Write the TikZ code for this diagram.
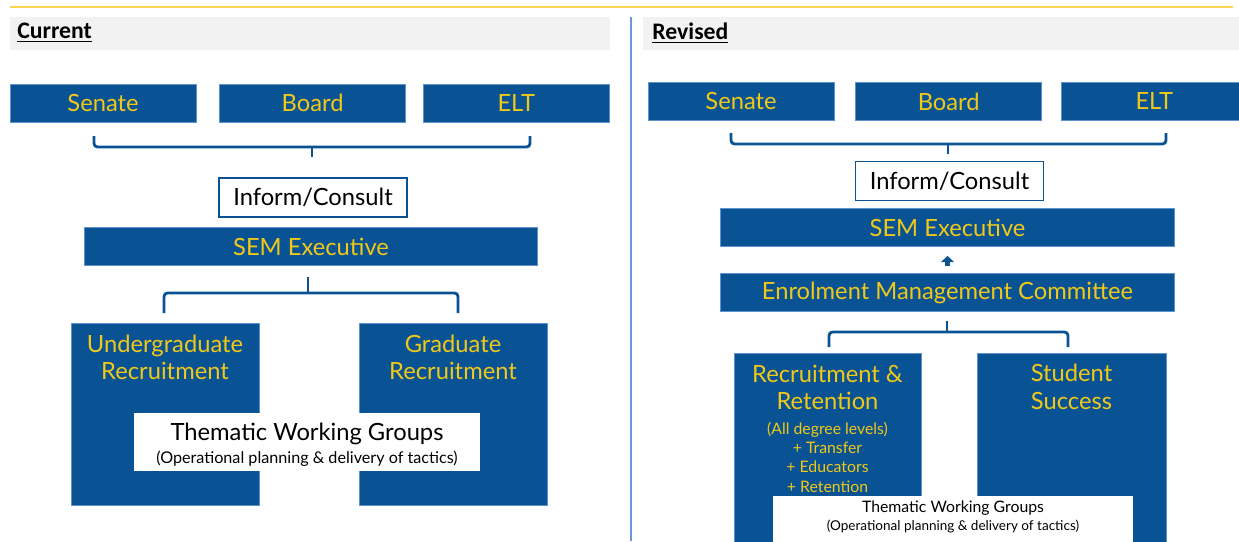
\documentclass[tikz,border=0pt]{standalone}
\usepackage{fontspec}
\setmainfont{Lato}
\newfontfamily\headfont{Carlito}
\usetikzlibrary{arrows.meta, positioning}

\definecolor{semblue}{RGB}{9,83,148}
\definecolor{semedge}{RGB}{96,146,206}
\definecolor{semgold}{RGB}{240,200,24}
\definecolor{rulegold}{RGB}{255,212,84}
\definecolor{headgray}{RGB}{242,242,242}
\definecolor{splitblue}{RGB}{110,150,215}

\tikzset{
  govbox/.style={rectangle, fill=semblue, draw=semedge, line width=0.4pt, text=semgold,
    inner sep=0pt, minimum width=3.72cm, minimum height=0.76cm, font=\fontsize{13.5}{15}\selectfont},
  widebox/.style={govbox, minimum width=9.07cm, minimum height=0.76cm},
  unitbox/.style={rectangle, fill=semblue, draw=semedge, line width=0.4pt, inner sep=0pt},
  unittext/.style={text=semgold, align=center, inner sep=0pt, font=\fontsize{13.5}{15.4}\selectfont},
  consult/.style={rectangle, draw=semblue, fill=white, line width=0.8pt, inner sep=0pt,
    minimum width=3.76cm, minimum height=0.78cm, font=\fontsize{13.5}{15}\selectfont},
  groupbox/.style={rectangle, fill=white, inner sep=0pt},
  bracket/.style={draw=semblue, line width=1.6pt, rounded corners=2pt},
  upblock/.style={-{Triangle[width=7.2pt,length=3.6pt]}, draw=semblue, line width=3.2pt,
    shorten <=4pt, shorten >=5.1pt},
  heading/.style={anchor=west, inner sep=0pt, font=\headfont\bfseries\fontsize{13.5}{15}\selectfont},
}

\begin{document}
\begin{tikzpicture}[x=0.02cm, y=-0.02cm]
  \useasboundingbox (0,0) rectangle (1239,541);
  \clip (0,0) rectangle (1239,541);

  % page furniture
  \draw[rulegold, line width=1.2pt] (10,7) -- (1233,7);
  \fill[headgray] (10,17) rectangle (610,50);
  \fill[headgray] (643,17) rectangle (1239,50);
  \node[heading] (curhead) at (17,33) {\underline{Current}};
  \node[heading] (revhead) at (652,33) {\underline{Revised}};
  \draw[splitblue, line width=0.8pt] (631,17) -- (631,541);

  %% current structure
  \node[govbox] (senateL) at (103,103) {Senate};
  \node[govbox, right=0.46cm of senateL] (boardL) {Board};
  \node[govbox, right=0.34cm of boardL] (eltL) {ELT};
  \draw[bracket] (94,136) |- (312,147) -| (530,136);
  \draw[bracket] (312,147) -- (312,157);

  \node[consult] (informL) at (313,197.5) {Inform/Consult};
  \node[widebox] (semL) at (311,246.5) {SEM Executive};
  \draw[bracket] (308,293) -- (308,277);
  \draw[bracket] (164,313) |- (308,293) -| (458,313);

  \node[unitbox, minimum width=3.76cm, minimum height=3.64cm] (ugrad) at (165,414) {};
  \node[unitbox, minimum width=3.76cm, minimum height=3.64cm] (grad) at (453,414) {};
  \node[unittext] (ugradtxt) at (165,357) {Undergraduate\\Recruitment};
  \node[unittext] (gradtxt) at (453,357) {Graduate\\Recruitment};
  \node[groupbox, minimum width=6.92cm, minimum height=1.16cm] (groupsL) at (307,442) {};
  \node[align=center, inner sep=0pt] (groupsLtxt) at (307,445)
    {\fontsize{13.5}{15}\selectfont Thematic Working Groups\\[1pt]
     \fontsize{9.2}{10}\selectfont (Operational planning \& delivery of tactics)};

  %% revised structure
  \node[govbox] (senateR) at (741,101.5) {Senate};
  \node[govbox, right=0.42cm of senateR] (boardR) {Board};
  \node[govbox, right=0.38cm of boardR] (eltR) {ELT};
  \draw[bracket] (731,133) |- (948,144) -| (1166,133);
  \draw[bracket] (948,144) -- (948,154);

  \node[consult] (informR) at (949.5,181) {Inform/Consult};
  \node[widebox] (semR) at (947.5,227.5) {SEM Executive};
  \node[widebox] (emc) at (947.5,292.5) {Enrolment Management Committee};
  \draw[upblock] (emc) -- (semR);
  \draw[bracket] (947,332) -- (947,321);
  \draw[bracket] (829,347) |- (947,332) -| (1068,347);

  \node[unitbox, minimum width=3.74cm, minimum height=4.14cm] (recret) at (827.5,456.5) {};
  \node[unitbox, minimum width=3.78cm, minimum height=4.14cm] (success) at (1071.5,456.5) {};
  \node[unittext] (recrettxt) at (827.5,387) {Recruitment \&\\Retention};
  \node[unittext, font=\fontsize{9}{11}\selectfont] (levels) at (827.5,457)
    {(All degree levels)\\+ Transfer\\+ Educators\\+ Retention};
  \node[unittext, font=\fontsize{13.5}{15.8}\selectfont] (successtxt) at (1071.5,387) {Student\\Success};
  \node[groupbox, minimum width=7.2cm, minimum height=1.28cm] (groupsR) at (953,528) {};
  \node[align=center, inner sep=0pt] (groupsRtxt) at (953,517)
    {\fontsize{9}{10}\selectfont Thematic Working Groups\\[-1.5pt]
     \fontsize{7.7}{8.5}\selectfont (Operational planning \& delivery of tactics)};
\end{tikzpicture}
\end{document}
